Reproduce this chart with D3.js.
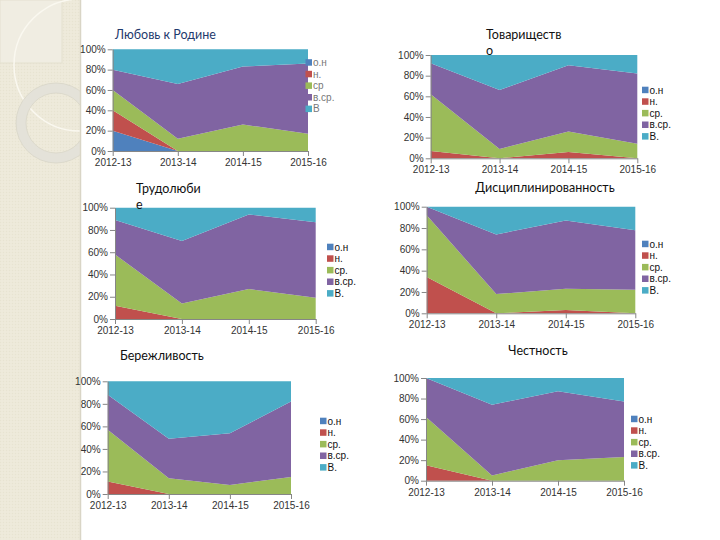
<!DOCTYPE html>
<html><head><meta charset="utf-8">
<script src="https://cdn.jsdelivr.net/npm/d3@7"></script>
<style>body{margin:0;background:#fff;} svg{display:block;}</style>
</head><body>
<svg id="c" width="720" height="540"></svg>
<script>
// ---------- data ----------
const categories = ["2012-13", "2013-14", "2014-15", "2015-16"];
const seriesKeys = ["on", "n", "sr", "vsr", "v"];
const legendLabels = ["о.н", "н.", "ср.", "в.ср.", "В."];
const legendLabelsFirst = ["о.н", "н.", "ср", "в.ср.", "В"];
const yTickValues = [0, 20, 40, 60, 80, 100];

// Любовь к Родине
const rodinaOn  = [20, 0, 0, 0];
const rodinaN   = [20, 0, 0, 0];
const rodinaSr  = [20, 12, 26, 17];
const rodinaVsr = [20, 54, 57, 69];
const rodinaV   = [20, 34, 17, 14];
// Товарищество
const tovarOn  = [0, 0, 0, 0];
const tovarN   = [7, 0, 6, 0];
const tovarSr  = [55, 9, 20, 14];
const tovarVsr = [30, 57, 64, 68];
const tovarV   = [8, 34, 10, 18];
// Трудолюбие
const trudOn  = [0, 0, 0, 0];
const trudN   = [12, 0, 0, 0];
const trudSr  = [46, 14, 27, 19];
const trudVsr = [31, 56, 67, 68];
const trudV   = [11, 30, 6, 13];
// Дисциплинированность
const discOn  = [0, 0, 0, 0];
const discN   = [34, 0, 3, 0];
const discSr  = [58, 18, 20, 22];
const discVsr = [8, 56, 64, 56];
const discV   = [0, 26, 13, 22];
// Бережливость
const berOn  = [0, 0, 0, 0];
const berN   = [11, 0, 0, 0];
const berSr  = [46, 14, 8, 15];
const berVsr = [31, 35, 46, 67];
const berV   = [12, 51, 46, 18];
// Честность
const chestOn  = [0, 0, 0, 0];
const chestN   = [15, 0, 0, 0];
const chestSr  = [47, 5, 20, 23];
const chestVsr = [38, 69, 67, 54];
const chestV   = [0, 26, 13, 23];

// ---------- styles ----------
const colors = ["#4F81BD", "#C0504D", "#9BBB59", "#8064A2", "#4BACC6"];

const charts = [
  {title: ["Любовь к Родине"], series: [rodinaOn, rodinaN, rodinaSr, rodinaVsr, rodinaV], labels: legendLabelsFirst,
   box: {l: 112.7, r: 308, t: 49.3, b: 151}, leg: {x: 305.5, y: 62.5, color: "#777"},
   tt: {x: 115, y: 39, anchor: "start", color: "#1F3B6E"}},
  {title: ["Товариществ", "о"], series: [tovarOn, tovarN, tovarSr, tovarVsr, tovarV], labels: legendLabels,
   box: {l: 430.7, r: 637.3, t: 55, b: 158.3}, leg: {x: 642, y: 90, color: "#111"},
   tt: {x: 486, y: 39, anchor: "start", color: "#111"}},
  {title: ["Трудолюби", "е"], series: [trudOn, trudN, trudSr, trudVsr, trudV], labels: legendLabels,
   box: {l: 115, r: 315.7, t: 207.7, b: 319}, leg: {x: 327, y: 247, color: "#111"},
   tt: {x: 136, y: 193, anchor: "start", color: "#111"}},
  {title: ["Дисциплинированность"], series: [discOn, discN, discSr, discVsr, discV], labels: legendLabels,
   box: {l: 426.7, r: 635.3, t: 206.7, b: 313.3}, leg: {x: 642, y: 244, color: "#111"},
   tt: {x: 545, y: 192, anchor: "middle", color: "#111"}},
  {title: ["Бережливость"], series: [berOn, berN, berSr, berVsr, berV], labels: legendLabels,
   box: {l: 107.7, r: 291, t: 381.3, b: 494}, leg: {x: 320, y: 421, color: "#111"},
   tt: {x: 120, y: 360, anchor: "start", color: "#111"}},
  {title: ["Честность"], series: [chestOn, chestN, chestSr, chestVsr, chestV], labels: legendLabels,
   box: {l: 426, r: 624, t: 378, b: 480.7}, leg: {x: 631, y: 419, color: "#111"},
   tt: {x: 538, y: 355, anchor: "middle", color: "#111"}}
];

const svg = d3.select("#c");

// ---------- background decoration ----------
const defs = svg.append("defs");
const pat = defs.append("pattern").attr("id", "tex").attr("width", 3).attr("height", 3)
  .attr("patternUnits", "userSpaceOnUse");
pat.append("rect").attr("width", 3).attr("height", 3).attr("fill", "#EDE9D9");
pat.append("rect").attr("x", 0).attr("y", 0).attr("width", 1).attr("height", 1).attr("fill", "#E7E3D1");
pat.append("rect").attr("x", 1.5).attr("y", 1.5).attr("width", 1).attr("height", 1).attr("fill", "#F1EEE1");
defs.append("clipPath").attr("id", "stripClip").append("rect")
  .attr("x", 0).attr("y", 0).attr("width", 80).attr("height", 540);

const deco = svg.append("g").attr("clip-path", "url(#stripClip)");
deco.append("rect").attr("x", 0).attr("y", 0).attr("width", 80).attr("height", 540).attr("fill", "url(#tex)");
deco.append("rect").attr("x", 0).attr("y", 0).attr("width", 62).attr("height", 63)
  .attr("fill", "#F0EDE2").attr("stroke", "#E4E0CF").attr("stroke-width", 1);
deco.append("circle").attr("cx", 80).attr("cy", 65).attr("r", 66)
  .attr("fill", "none").attr("stroke", "#FAF8F0").attr("stroke-width", 1.5);
deco.append("circle").attr("cx", 56).attr("cy", 123).attr("r", 35)
  .attr("fill", "none").attr("stroke", "#E4E2D9").attr("stroke-width", 10);
deco.append("circle").attr("cx", 56).attr("cy", 123).attr("r", 40)
  .attr("fill", "none").attr("stroke", "#D8D5C8").attr("stroke-width", 0.8);
deco.append("circle").attr("cx", 56).attr("cy", 123).attr("r", 30)
  .attr("fill", "none").attr("stroke", "#D8D5C8").attr("stroke-width", 0.8);
svg.append("line").attr("x1", 80.5).attr("x2", 80.5).attr("y1", 0).attr("y2", 540)
  .attr("stroke", "#D9D5C6").attr("stroke-width", 1.5);

// ---------- charts ----------
charts.forEach(ch => {
  const table = categories.map((c, i) => {
    const row = {cat: c};
    seriesKeys.forEach((k, j) => { row[k] = ch.series[j][i]; });
    return row;
  });
  const stacked = d3.stack().keys(seriesKeys)(table);
  const x = d3.scalePoint().domain(categories).range([ch.box.l, ch.box.r]).padding(0);
  const y = d3.scaleLinear().domain([0, 100]).range([ch.box.b, ch.box.t]);
  const area = d3.area().x(d => x(d.data.cat)).y0(d => y(d[0])).y1(d => y(d[1]));

  const g = svg.append("g");
  g.selectAll("path.a").data(stacked).join("path").attr("class", "a")
    .attr("d", area).attr("fill", (d, i) => colors[i]);

  const ya = g.append("g").attr("transform", `translate(${ch.box.l},0)`)
    .call(d3.axisLeft(y).tickValues(yTickValues).tickFormat(d => d + "%").tickSize(5).tickSizeOuter(0).tickPadding(2));
  const xa = g.append("g").attr("transform", `translate(0,${ch.box.b})`)
    .call(d3.axisBottom(x).tickSize(5).tickSizeOuter(0).tickPadding(3));
  [ya, xa].forEach(a => {
    a.selectAll("path,line").attr("stroke", "#868686");
    a.selectAll("text").attr("fill", "#333").attr("font-family", "'Liberation Sans', Arial, sans-serif").attr("font-size", 10);
  });

  // legend
  const lg = g.append("g");
  ch.labels.forEach((lab, i) => {
    const yy = ch.leg.y + i * 11.6;
    lg.append("rect").attr("x", ch.leg.x).attr("y", yy - 3.3).attr("width", 6.5).attr("height", 6.5).attr("fill", colors[i]);
    lg.append("text").attr("x", ch.leg.x + 7.5).attr("y", yy).attr("dy", "0.35em")
      .attr("font-family", "'Liberation Sans', Arial, sans-serif").attr("font-size", 10)
      .attr("fill", ch.leg.color).text(lab);
  });

  // title
  ch.title.forEach((line, i) => {
    g.append("text").attr("x", ch.tt.x).attr("y", ch.tt.y + i * 15.5)
      .attr("text-anchor", ch.tt.anchor).attr("font-family", "Lato, 'Open Sans', sans-serif")
      .attr("font-size", 12.5).attr("fill", ch.tt.color).text(line);
  });
});
</script>
</body></html>
